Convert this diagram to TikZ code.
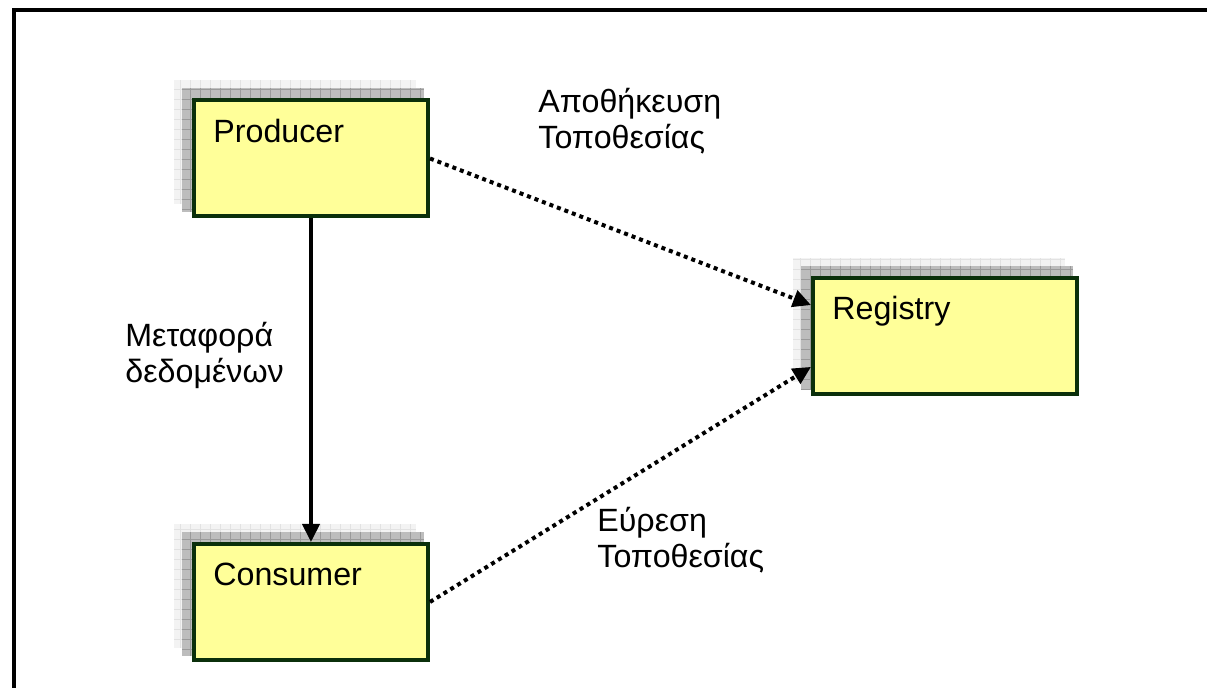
\documentclass[tikz,border=0pt]{standalone}
\usepackage{fontspec}
\setmainfont{Liberation Sans}
\usetikzlibrary{arrows.meta,calc,backgrounds}
\definecolor{boxfill}{HTML}{FFFF99}
\definecolor{boxline}{HTML}{0B300B}
\definecolor{shlight}{HTML}{F3F3F3}
\definecolor{shlightgrid}{HTML}{E2E2E2}
\definecolor{shdark}{HTML}{BDBDBD}
\definecolor{shdarkgrid}{HTML}{9A9A9A}
\begin{document}
\begin{tikzpicture}[x=0.5pt,y=-0.5pt,
  every node/.style={font=\fontsize{16.1}{18}\selectfont},
  boxnode/.style={draw=boxline,fill=boxfill,line width=2pt,inner sep=0pt,rectangle},
  boxtext/.style={anchor=base west,inner sep=0pt},
  lbl/.style={anchor=base west,inner sep=0pt,align=left},
  solidarrow/.style={line width=2pt,-{Triangle[length=9pt,width=8.5pt]}},
  dotarrow/.style={line width=2pt,dash pattern=on 2pt off 2pt,-{Triangle[length=9pt,width=8.5pt]}}]
\useasboundingbox (0,0) rectangle (1207,688);
% frame
\draw[line width=2pt] (14,688) -- (14,10) -- (1207,10);
% boxes
\node[boxnode,minimum width=117pt,minimum height=58pt] (prod) at (311,158.5) {};
\node[boxnode,minimum width=132pt,minimum height=58pt] (reg) at (945,336) {};
\node[boxnode,minimum width=117pt,minimum height=58pt] (cons) at (311,602) {};
% shadows
\begin{pgfonlayer}{background}
\foreach \b in {prod,reg,cons}{
  \begin{scope}
    \clip ($(\b.north west)+(-18,-18)$) rectangle ($(\b.south east)+(-14,-14)$);
    \fill[shlight] ($(\b.north west)+(-18,-18)$) rectangle ($(\b.south east)+(-14,-14)$);
    \draw[shlightgrid,line width=0.5pt,step=5pt] ($(\b.north west)+(-18,-18)$) grid ($(\b.south east)+(-14,-14)$);
  \end{scope}
  \begin{scope}
    \clip ($(\b.north west)+(-10,-10)$) rectangle ($(\b.south east)+(-6,-6)$);
    \fill[shdark] ($(\b.north west)+(-10,-10)$) rectangle ($(\b.south east)+(-6,-6)$);
    \draw[shdarkgrid,line width=0.5pt,step=5pt] ($(\b.north west)+(-10,-10)$) grid ($(\b.south east)+(-6,-6)$);
  \end{scope}
}
\end{pgfonlayer}
% box texts
\node[boxtext] (prodt) at ($(prod.north west)+(21,44)$) {Producer};
\node[boxtext] (regt) at ($(reg.north west)+(21,44)$) {Registry};
\node[boxtext] (const) at ($(cons.north west)+(21,44)$) {Consumer};
% connectors
\draw[solidarrow] (prod.south) -- (cons.north);
\draw[dotarrow] (prod.east) -- (reg.167);
\draw[dotarrow] (cons.east) -- (reg.193);
% labels (base = baseline of last line)
\node[lbl] (l1) at (538,149) {Αποθήκευση\\Τοποθεσίας};
\node[lbl] (l2) at (125,383) {Μεταφορά\\δεδομένων};
\node[lbl] (l3) at (597,568) {Εύρεση\\Τοποθεσίας};
\end{tikzpicture}
\end{document}
